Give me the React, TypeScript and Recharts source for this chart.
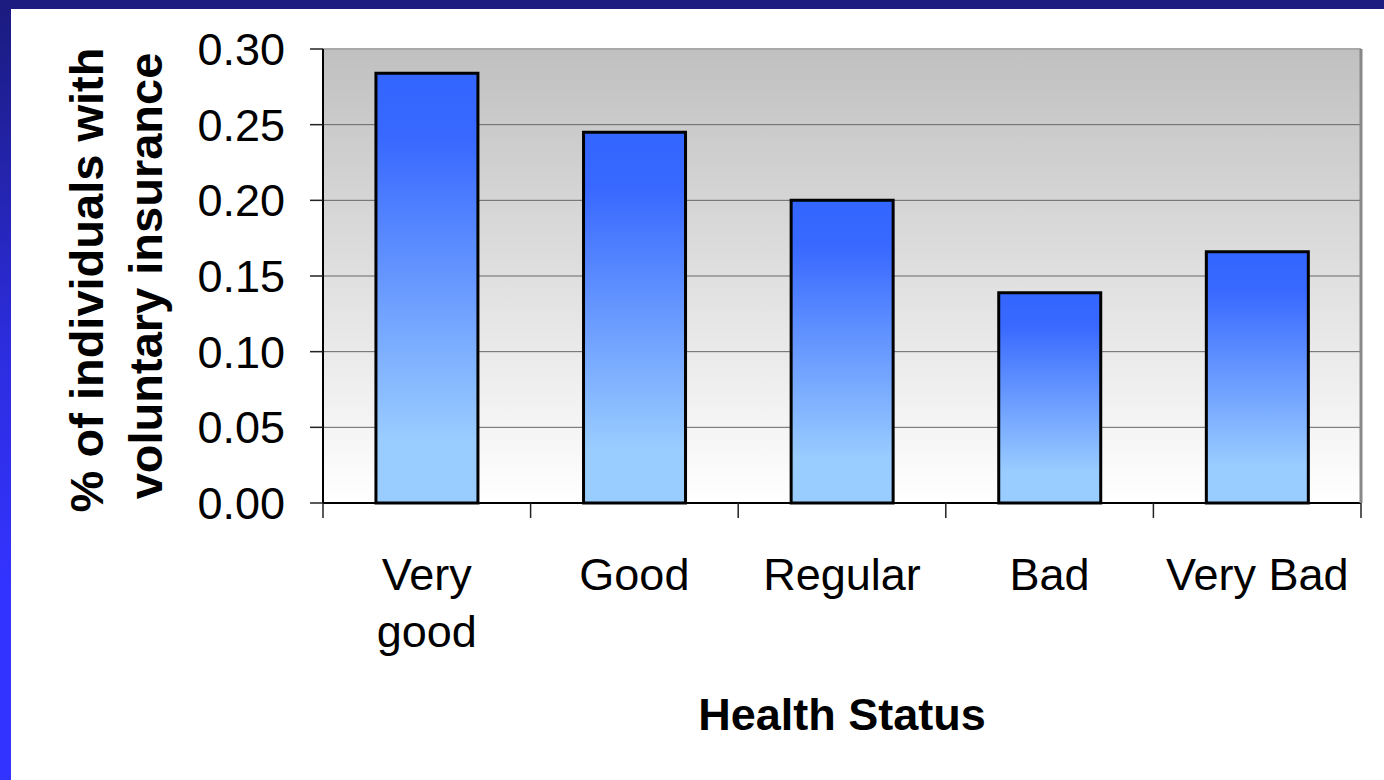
import React from 'react';
import { BarChart, Bar, XAxis, YAxis, CartesianGrid, ReferenceLine } from 'recharts';

const categories = ['Very good', 'Good', 'Regular', 'Bad', 'Very Bad'];
const tickLines = [['Very', 'good'], ['Good'], ['Regular'], ['Bad'], ['Very Bad']];
const shares = [0.284, 0.245, 0.2, 0.139, 0.166];
const yTicks = [0, 0.05, 0.1, 0.15, 0.2, 0.25, 0.3];

const W = 1384;
const H = 780;
const LEFT = 323;
const RIGHT = 23;
const TOP = 49;
const X_AXIS_H = 277;
const PLOT_W = W - LEFT - RIGHT;
const BAND = PLOT_W / categories.length;
const FONT = '"Liberation Sans", Arial, sans-serif';

const data = categories.map((name, i) => ({ name, lines: tickLines[i], value: shares[i] }));

// x ticks: label at category centre, small tick marks on the category boundaries
const XTick = (props: any) => {
  const { x, y, payload, index } = props;
  const lines = tickLines[index] || [payload.value];
  const axisY = y;
  return (
    <g>
      <line x1={x - BAND / 2} x2={x - BAND / 2} y1={axisY} y2={axisY + 15} stroke="#222" strokeWidth={1.5} />
      {index === categories.length - 1 && (
        <line x1={x + BAND / 2} x2={x + BAND / 2} y1={axisY} y2={axisY + 15} stroke="#222" strokeWidth={1.5} />
      )}
      {lines.map((ln: string, k: number) => (
        <text key={k} x={x} y={590 + k * 57} textAnchor="middle" fill="#000" fontSize={45} fontFamily={FONT}>
          {ln}
        </text>
      ))}
    </g>
  );
};

const YTitle = () => (
  <g fontFamily={FONT} fontWeight="bold" fontSize={47} fill="#000">
    <text transform={`translate(103, 280) rotate(-90)`} textAnchor="middle">% of individuals with</text>
    <text transform={`translate(162, 276) rotate(-90)`} textAnchor="middle">voluntary insurance</text>
  </g>
);

const XTitle = () => (
  <text x={LEFT + PLOT_W / 2} y={730} textAnchor="middle" fontFamily={FONT} fontWeight="bold" fontSize={45} fill="#000">
    Health Status
  </text>
);

export default function App() {
  return (
    <div style={{ position: 'absolute', left: 0, top: 0, width: W, height: H, background: '#fff', overflow: 'hidden' }}>
      <BarChart
        width={W}
        height={H}
        data={data}
        margin={{ top: TOP, right: 0, left: 0, bottom: 0 }}
        barCategoryGap="25.5%"
      >
        <defs>
          <linearGradient id="plotBg" x1="0" y1="0" x2="0" y2="1">
            <stop offset="0%" stopColor="#c0c0c0" />
            <stop offset="100%" stopColor="#ffffff" />
          </linearGradient>
          <linearGradient id="barFill" x1="0" y1="0" x2="0" y2="1">
            <stop offset="0%" stopColor="#3366ff" />
            <stop offset="15%" stopColor="#3868ff" />
            <stop offset="85%" stopColor="#99ccff" />
            <stop offset="100%" stopColor="#99ccff" />
          </linearGradient>
        </defs>
        <CartesianGrid
          yAxisId="l"
          vertical={false}
          stroke="#666"
          strokeWidth={1}
          fill="url(#plotBg)"
          fillOpacity={1}
        />
        <XAxis
          dataKey="name"
          height={X_AXIS_H}
          interval={0}
          axisLine={{ stroke: '#000', strokeWidth: 2 }}
          tickLine={false}
          tickSize={0}
          tickMargin={0}
          tick={<XTick />}
          label={<XTitle />}
        />
        <YAxis
          yAxisId="l"
          width={LEFT}
          domain={[0, 0.3]}
          ticks={yTicks}
          tickFormatter={(v: number) => v.toFixed(2)}
          tick={{ fontSize: 45, fill: '#000', fontFamily: FONT }}
          tickSize={13}
          tickMargin={25}
          tickLine={{ stroke: '#222', strokeWidth: 1.5 }}
          axisLine={{ stroke: '#000', strokeWidth: 2 }}
          label={<YTitle />}
        />
        <YAxis
          yAxisId="r"
          orientation="right"
          width={RIGHT}
          domain={[0, 0.3]}
          tick={false}
          tickLine={false}
          axisLine={{ stroke: '#888', strokeWidth: 3 }}
        />
        <ReferenceLine yAxisId="l" y={0.3} stroke="#a8a8a8" strokeWidth={2} />
        <Bar
          yAxisId="l"
          dataKey="value"
          fill="url(#barFill)"
          stroke="#000"
          strokeWidth={3}
          isAnimationActive={false}
        />
      </BarChart>
      <div style={{ position: 'absolute', left: 0, top: 0, width: W, height: 9, background: '#1b1b80' }} />
      <div
        style={{
          position: 'absolute',
          left: 0,
          top: 9,
          width: 11,
          height: H - 9,
          background: 'linear-gradient(to bottom, #1b1b80 0%, #2d2de0 45%, #3333ff 75%, #3333ff 100%)',
        }}
      />
    </div>
  );
}
